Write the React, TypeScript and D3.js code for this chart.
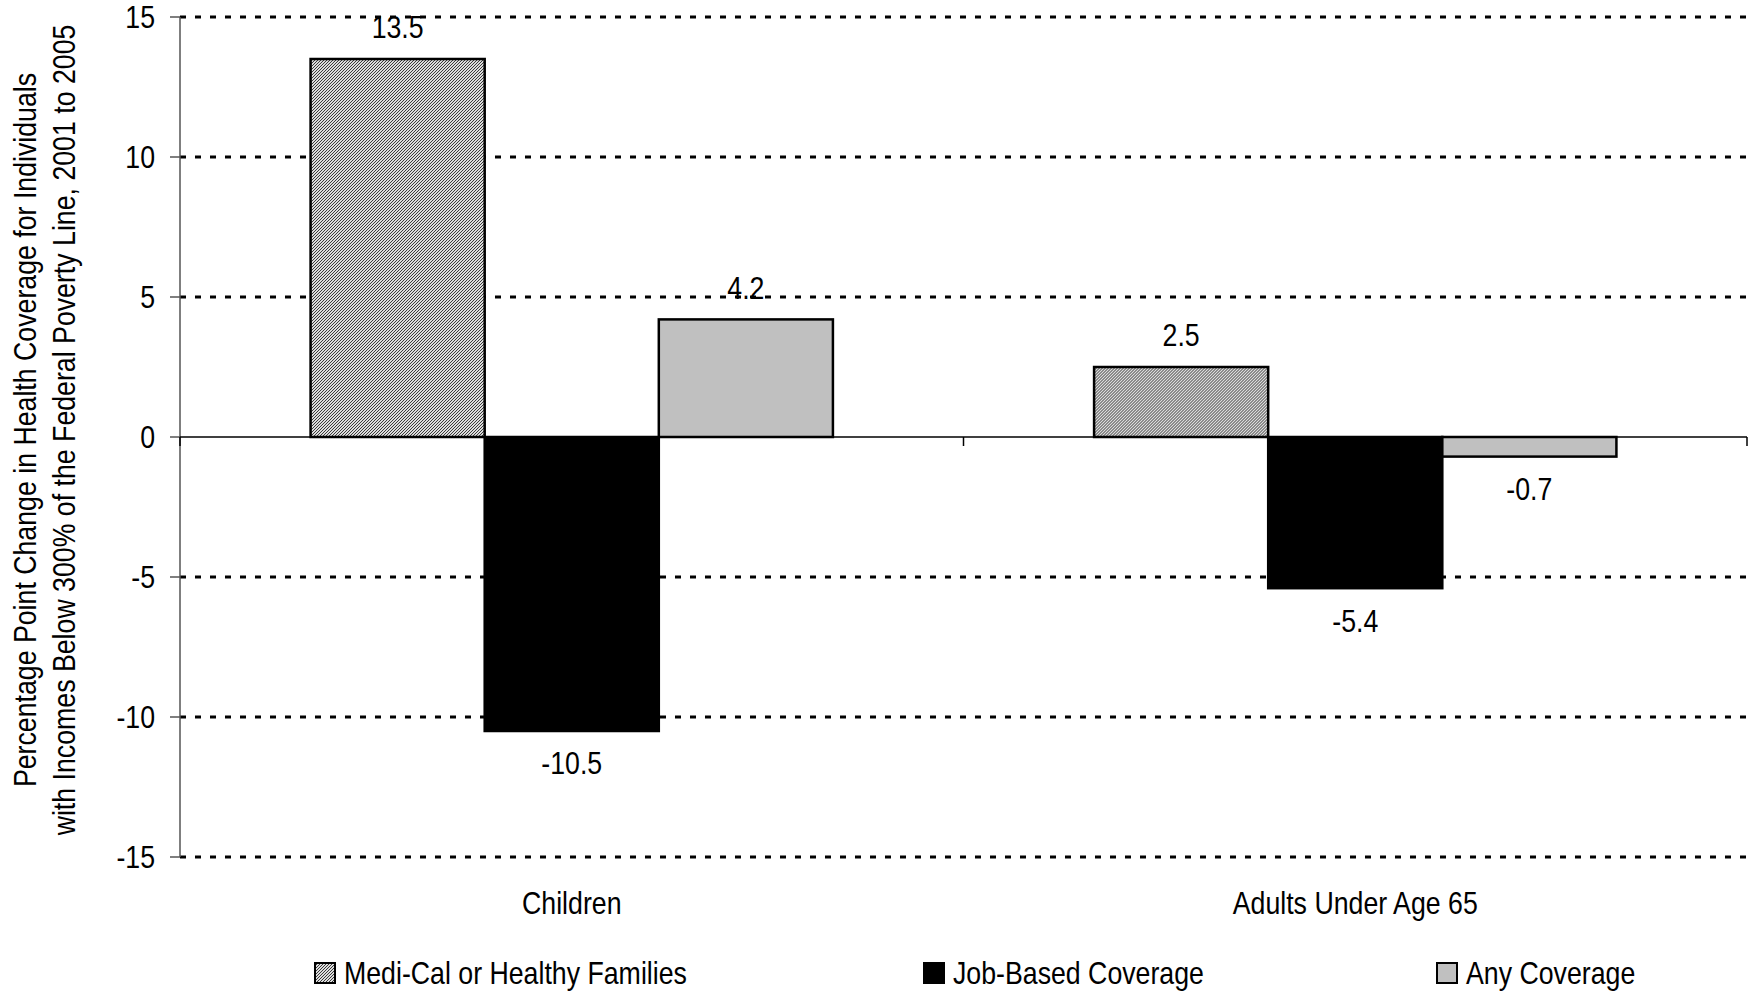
import React from "react";
import * as d3 from "d3";

const categories = ["Children", "Adults Under Age 65"];
const seriesNames = ["Medi-Cal or Healthy Families", "Job-Based Coverage", "Any Coverage"];
const mediCal = [13.5, 2.5];
const jobBased = [-10.5, -5.4];
const anyCoverage = [4.2, -0.7];
const yTicks = [-15, -10, -5, 0, 5, 10, 15];
const gridTicks = [-15, -10, -5, 5, 10, 15];
const yTitle = [
  "Percentage Point Change in Health Coverage for Individuals",
  "with Incomes Below 300% of the Federal Poverty Line, 2001 to 2005",
];

const FONT = "'Liberation Sans', Arial, sans-serif";
const SX = 0.835;

function T({ x, y, anchor = "middle", size = 32, rotate = 0, children }: any) {
  return (
    <text
      transform={`translate(${x},${y}) rotate(${rotate}) scale(${SX},1)`}
      textAnchor={anchor}
      dominantBaseline="central"
      fontSize={size}
      fill="#000"
    >
      {children}
    </text>
  );
}

export default function App() {
  const W = 1758, H = 991;
  const left = 180, right = 1747, top = 17, bottom = 857;
  const x0 = d3.scaleBand<string>().domain(categories).range([left, right]).padding(0);
  const x1 = d3.scaleBand<string>().domain(seriesNames).range([0, x0.bandwidth()]).paddingInner(0).paddingOuter(0.75);
  const y = d3.scaleLinear().domain([-15, 15]).range([bottom, top]);
  const fills = ["url(#hatch)", "#000000", "#c0c0c0"];
  const values = [mediCal, jobBased, anyCoverage];
  const fmt = (v: number) => d3.format(".1f")(v).replace("\u2212", "-");

  const legendX = [315, 924, 1437];

  return (
    <svg width={W} height={H} style={{ position: "absolute", left: 0, top: 0, background: "#fff" }} fontFamily={FONT}>
      <defs>
        <pattern id="hatch" patternUnits="userSpaceOnUse" width="3" height="3">
          <rect width="3" height="3" fill="#dcdcdc" />
          <path d="M-1,1 l2,-2 M0,3 l3,-3 M2,4 l2,-2" stroke="#3a3a3a" strokeWidth="1" />
        </pattern>
      </defs>
      {/* gridlines */}
      {gridTicks.map((t) => (
        <line key={t} x1={left} x2={right} y1={y(t)} y2={y(t)} stroke="#000" strokeWidth={3} strokeDasharray="6 9" />
      ))}
      {/* y axis */}
      <line x1={left} x2={left} y1={y(15)} y2={y(-15)} stroke="#555" strokeWidth={1.5} />
      {yTicks.map((t) => (
        <g key={t}>
          <line x1={left - 10} x2={left} y1={y(t)} y2={y(t)} stroke="#555" strokeWidth={1.5} />
          <T x={155} y={y(t)} anchor="end">{String(t)}</T>
        </g>
      ))}
      {/* bars */}
      {categories.map((c, ci) => (
        <g key={c} transform={`translate(${x0(c)},0)`}>
          {seriesNames.map((s, si) => {
            const v = values[si][ci];
            const bx = x1(s)!;
            const y0 = y(Math.max(0, v));
            const h = Math.abs(y(v) - y(0));
            return (
              <g key={s}>
                <rect x={bx} y={y0} width={x1.bandwidth()} height={h} fill={fills[si]} stroke="#000" strokeWidth={2.5} />
                <T x={bx + x1.bandwidth() / 2} y={v >= 0 ? y(v) - 32 : y(v) + 32}>{fmt(v)}</T>
              </g>
            );
          })}
        </g>
      ))}
      {/* zero axis */}
      <line x1={left} x2={right} y1={y(0)} y2={y(0)} stroke="#000" strokeWidth={1.5} />
      {[left, ...categories.map((c) => x0(c)! + x0.bandwidth())].map((xx, i) => (
        <line key={i} x1={xx} x2={xx} y1={y(0)} y2={y(0) + 9} stroke="#000" strokeWidth={1.5} />
      ))}
      {/* category labels */}
      {categories.map((c) => (
        <T key={c} x={x0(c)! + x0.bandwidth() / 2} y={903}>{c}</T>
      ))}
      {/* y title */}
      <T x={25} y={430} rotate={-90} size={32}>{yTitle[0]}</T>
      <T x={64} y={430} rotate={-90} size={32}>{yTitle[1]}</T>
      {/* legend */}
      {seriesNames.map((s, i) => (
        <g key={s}>
          <rect x={legendX[i]} y={963} width={20} height={20} fill={fills[i]} stroke="#000" strokeWidth={2} />
          <T x={legendX[i] + 29} y={973} anchor="start">{s}</T>
        </g>
      ))}
    </svg>
  );
}
